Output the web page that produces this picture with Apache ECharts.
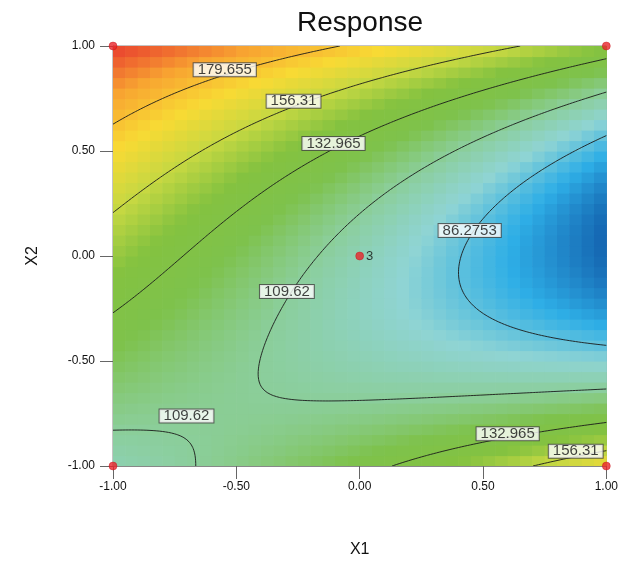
<!DOCTYPE html>
<html>
<head>
<meta charset="utf-8">
<script src="https://cdn.jsdelivr.net/npm/echarts@6/dist/echarts.min.js"></script>
<style>
html, body { margin: 0; padding: 0; background: #fff; }
#chart { width: 621px; height: 563px; }
</style>
</head>
<body>
<div id="chart"></div>
<script>
// fitted response model, terms: 1, X1, X2, X1X2, X1^2, X2^2, X1^2X2, X1X2^2, X1^3, X2^3
var coef = [102.675, -40.599, 24.313, -31.605, 1.988, 50.168, -6.538, 43.073, -0.549, 0.191];
var levels = [86.2753, 109.62, 132.965, 156.31, 179.655];
var labelX = [-0.547, -0.268, -0.106, 0.446, -0.295, -0.702, 0.6, 0.876];
var labelY = [0.887, 0.737, 0.536, 0.121, -0.169, -0.762, -0.846, -0.93];
var labelText = ['179.655', '156.31', '132.965', '86.2753', '109.62', '109.62', '132.965', '156.31'];
var designX = [-1, 1, -1, 1, 0];
var designY = [1, 1, -1, -1, 0];
var designRuns = ['', '', '', '', '3'];
var tickFmt = function (v) { return v.toFixed(2); };

function model(x, y) {
    var t = [1, x, y, x * y, x * x, y * y, x * x * y, x * y * y, x * x * x, y * y * y];
    var s = 0;
    for (var i = 0; i < t.length; i++) s += coef[i] * t[i];
    return s;
}

var cells = 40;
var cellData = [];
for (var i = 0; i < cells; i++) {
    for (var j = 0; j < cells; j++) {
        var cx = -1 + (i + 0.5) * 2 / cells, cy = -1 + (j + 0.5) * 2 / cells;
        cellData.push([cx, cy, model(cx, cy)]);
    }
}

// contour segments by marching squares
var m = 160, segs = [];
function gridPos(i) { return -1 + i * 2 / m; }
for (var li = 0; li < levels.length; li++) {
    var L = levels[li];
    for (var i = 0; i < m; i++) {
        for (var j = 0; j < m; j++) {
            var x0 = gridPos(i), x1 = gridPos(i + 1), y0 = gridPos(j), y1 = gridPos(j + 1);
            var v = [model(x0, y0), model(x1, y0), model(x1, y1), model(x0, y1)];
            var px = [x0, x1, x1, x0], py = [y0, y0, y1, y1];
            var pts = [];
            for (var e = 0; e < 4; e++) {
                var a = v[e], b = v[(e + 1) % 4];
                if ((a < L) !== (b < L)) {
                    var t = (L - a) / (b - a);
                    pts.push([px[e] + t * (px[(e + 1) % 4] - px[e]), py[e] + t * (py[(e + 1) % 4] - py[e])]);
                }
            }
            if (pts.length >= 2) segs.push([pts[0][0], pts[0][1], pts[1][0], pts[1][1]]);
            if (pts.length === 4) segs.push([pts[2][0], pts[2][1], pts[3][0], pts[3][1]]);
        }
    }
}

var labelData = labelX.map(function (x, i) { return [x, labelY[i], labelText[i]]; });
var designData = designX.map(function (x, i) { return [x, designY[i], designRuns[i]]; });

var chart = echarts.init(document.getElementById('chart'));
chart.setOption({
    animation: false,
    grid: { left: 113, right: 14, top: 46, bottom: 92, show: true, borderColor: '#888', borderWidth: 1 },
    graphic: [
        { type: 'text', left: 360 - 63, top: 9, style: { text: 'Response', font: '28px "Liberation Sans", Arial, sans-serif', fill: '#111' } }
    ],
    visualMap: {
        show: false, seriesIndex: 0, dimension: 2, min: 63, max: 203,
        inRange: { color: ['#1464b0', '#2eaee6', '#8fd4d4', '#8bce9a', '#7ec24c', '#84c240', '#c6d842', '#f8da34', '#f8a531', '#e8392e'] }
    },
    xAxis: {
        type: 'value', min: -1, max: 1, interval: 0.5,
        name: 'X1', nameLocation: 'middle', nameGap: 76,
        nameTextStyle: { fontSize: 16, color: '#111', fontFamily: 'Liberation Sans' },
        axisLine: { onZero: false, lineStyle: { color: '#888' } },
        axisTick: { length: 13, lineStyle: { color: '#666' } },
        axisLabel: { fontSize: 12, color: '#111', margin: 15, fontFamily: 'Liberation Sans', formatter: tickFmt },
        splitLine: { show: false }
    },
    yAxis: {
        type: 'value', min: -1, max: 1, interval: 0.5,
        name: 'X2', nameLocation: 'middle', nameGap: 72, nameRotate: 90,
        nameTextStyle: { fontSize: 16, color: '#111', fontFamily: 'Liberation Sans' },
        axisLine: { onZero: false, lineStyle: { color: '#888' } },
        axisTick: { length: 13, lineStyle: { color: '#666' } },
        axisLabel: { fontSize: 12, color: '#111', margin: 18, fontFamily: 'Liberation Sans', formatter: tickFmt },
        splitLine: { show: false }
    },
    series: [
        {
            type: 'custom', data: cellData, clip: true,
            renderItem: function (params, api) {
                var h = 1 / cells;
                var p0 = api.coord([api.value(0) - h, api.value(1) + h]);
                var p1 = api.coord([api.value(0) + h, api.value(1) - h]);
                return { type: 'rect', shape: { x: p0[0], y: p0[1], width: p1[0] - p0[0] + 0.6, height: p1[1] - p0[1] + 0.6 }, style: { fill: api.visual('color') } };
            }
        },
        {
            type: 'custom', data: segs, clip: true,
            renderItem: function (params, api) {
                var a = api.coord([api.value(0), api.value(1)]);
                var b = api.coord([api.value(2), api.value(3)]);
                return { type: 'line', shape: { x1: a[0], y1: a[1], x2: b[0], y2: b[1] }, style: { stroke: '#1a1a1a', lineWidth: 0.9 } };
            }
        },
        {
            type: 'scatter', data: labelData, symbolSize: 1, itemStyle: { color: 'rgba(0,0,0,0)' },
            label: { show: true, position: 'inside', formatter: function (p) { return p.data[2]; },
                fontSize: 15, lineHeight: 13, color: '#111', fontFamily: 'Liberation Sans', backgroundColor: '#fff',
                borderColor: '#444', borderWidth: 1, padding: [0, 4, 0, 4] }
        },
        {
            type: 'scatter', data: designData, symbolSize: 8, clip: false,
            itemStyle: { color: '#e8242a', borderColor: '#c01018', borderWidth: 0.5 },
            label: { show: true, position: 'right', distance: 2, formatter: function (p) { return p.data[2]; },
                fontSize: 13, color: '#111', fontFamily: 'Liberation Sans' }
        }
    ]
});
</script>
</body>
</html>
